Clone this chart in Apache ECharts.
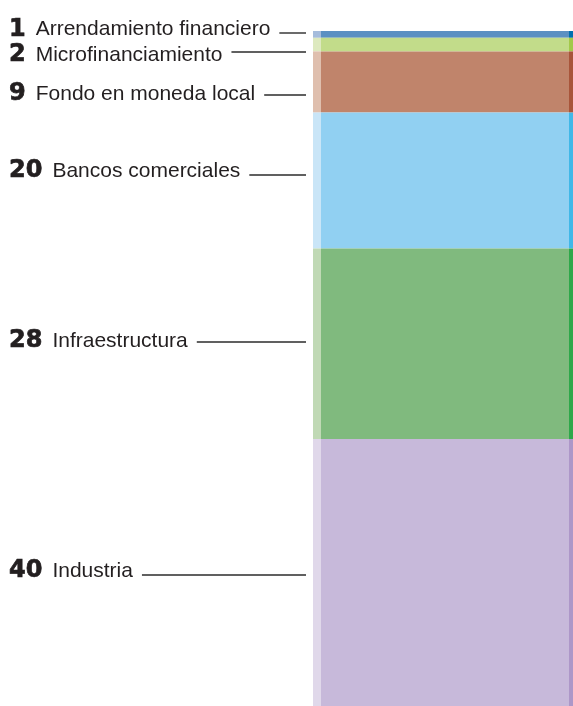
<!DOCTYPE html>
<html><head><meta charset="utf-8">
<script src="https://cdn.jsdelivr.net/npm/echarts@6/dist/echarts.min.js"></script>
<style>html,body{margin:0;padding:0;background:#fff}#c{width:573px;height:706px}</style>
</head><body><div id="c"></div>
<script>
// ---- data ----
const categories = ['Arrendamiento financiero','Microfinanciamiento','Fondo en moneda local','Bancos comerciales','Infraestructura','Industria'];
const values = [1, 2, 9, 20, 28, 40];

// ---- styles ----
const mainColors  = ['#5b90c2','#c2dc8a','#c0846b','#91d0f2','#80ba7e','#c7b9da'];
const lightColors = ['#a5bcdc','#dde9bf','#dfbfae','#c9e5f7','#c0d9b5','#e0d8ea'];
const darkColors  = ['#0070b0','#a3c94a','#a8553a','#40b8e8','#2ea84a','#ad97c8'];
const colorSets = [lightColors, mainColors, darkColors];

// ---- layout ----
const gridDefs = [{left:313,width:8},{left:321,width:248},{left:569,width:4}];
const textY = [29.5, 55, 94, 171, 341, 571];
const lineY = [33, 52, 95, 175, 342, 575];
const numFont = 'bold 24px "DejaVu Sans"';
const nameFont = '21px "Liberation Sans"';
const textColor = '#231f20';

const chart = echarts.init(document.getElementById('c'), null, {renderer:'canvas'});

const grids = [], xAxes = [], yAxes = [], series = [];
gridDefs.forEach((g, gi) => {
  grids.push({left:g.left, width:g.width, top:31, height:680, outerBoundsMode:'none', containLabel:false});
  xAxes.push({type:'category', gridIndex:gi, data:['x'], show:false});
  yAxes.push({type:'value', gridIndex:gi, min:0, max:100, inverse:true, show:false});
  values.forEach((v, i) => {
    series.push({
      type:'bar', name:categories[i], xAxisIndex:gi, yAxisIndex:gi, stack:'s'+gi,
      data:[v], barWidth:'100%', silent:true,
      itemStyle:{color:colorSets[gi][i]}
    });
  });
});

// measure text
const ctx = document.createElement('canvas').getContext('2d');
function w(font, s){ ctx.font = font; return ctx.measureText(s).width; }

const graphics = [];
values.forEach((v, i) => {
  const numStr = String(v);
  const nx = 9;
  const nw = w(numFont, numStr);
  const tx = nx + nw + 10;
  const tw = w(nameFont, categories[i]);
  graphics.push({type:'text', x:nx, y:textY[i], silent:true,
    style:{text:numStr, font:numFont, fill:textColor, stroke:textColor, lineWidth:0.7,
           textVerticalAlign:'middle', verticalAlign:'middle'}});
  graphics.push({type:'text', x:tx, y:textY[i], silent:true,
    style:{text:categories[i], font:nameFont, fill:textColor, textVerticalAlign:'middle', verticalAlign:'middle'}});
  graphics.push({type:'line', silent:true,
    shape:{x1:tx+tw+9, y1:lineY[i], x2:306, y2:lineY[i]},
    style:{stroke:'#2b2b2b', lineWidth:1.4}});
});

chart.setOption({
  animation:false,
  backgroundColor:'#ffffff',
  grid:grids, xAxis:xAxes, yAxis:yAxes, series:series,
  graphic:graphics
});
</script></body></html>
